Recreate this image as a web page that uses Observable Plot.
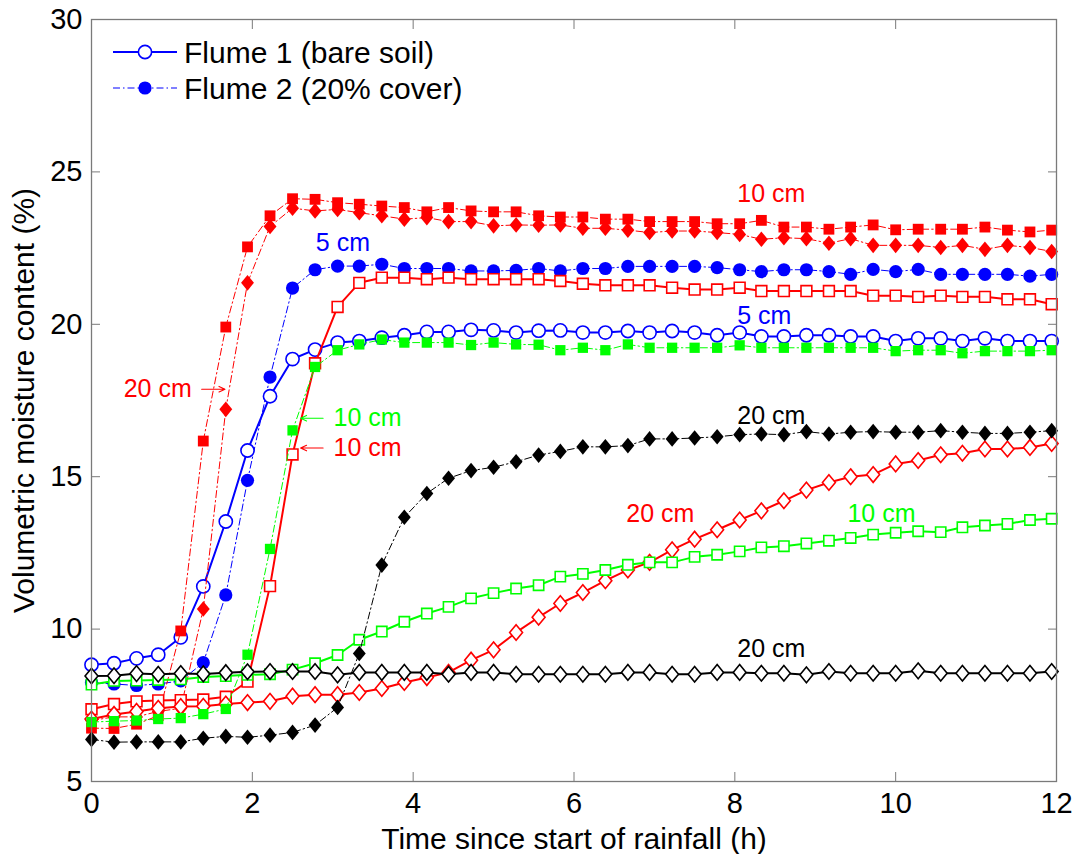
<!DOCTYPE html>
<html><head><meta charset="utf-8">
<script src="https://cdn.jsdelivr.net/npm/d3@7"></script>
<script src="https://cdn.jsdelivr.net/npm/@observablehq/plot@0.6"></script>
<style>
body{margin:0;background:#fff;}
#wrap{position:relative;width:1077px;height:854px;font-family:"Liberation Sans",Arial,sans-serif;}
</style></head><body><div id="wrap"></div>
<script>
// time since start of rainfall (h)
const time = [0,0.28,0.56,0.83,1.11,1.39,1.67,1.94,2.22,2.5,2.78,3.06,3.33,3.61,3.89,4.17,4.44,4.72,5,5.28,5.56,5.83,6.11,6.39,6.67,6.94,7.22,7.5,7.78,8.06,8.33,8.61,8.89,9.17,9.44,9.72,10,10.28,10.56,10.83,11.11,11.39,11.67,11.94];

// Flume 1 (bare soil)
const f1Blue5 = [8.83,8.88,9.04,9.16,9.73,11.40,13.53,15.86,17.64,18.86,19.17,
 19.40,19.45,19.56,19.64,19.75,19.75,19.82,19.80,19.73,19.79,19.80,
 19.73,19.73,19.78,19.73,19.78,19.73,19.64,19.73,19.60,19.60,19.64,
 19.64,19.60,19.60,19.45,19.54,19.54,19.45,19.54,19.45,19.45,19.45];
const f1Red10 = [7.37,7.54,7.63,7.66,7.67,7.69,7.78,8.28,11.41,15.73,18.72,
 20.57,21.36,21.53,21.53,21.48,21.53,21.48,21.48,21.48,21.48,21.42,
 21.33,21.28,21.28,21.28,21.20,21.14,21.14,21.20,21.09,21.09,21.09,
 21.09,21.09,20.94,20.94,20.90,20.94,20.90,20.90,20.82,20.82,20.66];
const f1Red20 = [7.05,7.2,7.3,7.4,7.46,7.47,7.54,7.59,7.63,7.80,7.85,
 7.85,7.92,8.05,8.25,8.41,8.58,8.98,9.32,9.89,10.39,10.84,
 11.20,11.59,11.94,12.19,12.60,12.95,13.26,13.58,13.88,14.21,14.56,
 14.81,15.00,15.07,15.42,15.53,15.72,15.77,15.91,15.91,15.96,16.09];
const f1Green10 = [8.18,8.3,8.31,8.33,8.35,8.43,8.46,8.5,8.52,8.67,8.88,
 9.15,9.65,9.92,10.24,10.51,10.73,11.01,11.18,11.33,11.44,11.72,
 11.81,11.94,12.11,12.19,12.19,12.37,12.44,12.55,12.68,12.72,12.81,
 12.90,12.99,13.10,13.16,13.21,13.18,13.34,13.40,13.45,13.58,13.62];
const f1Black20 = [8.46,8.47,8.54,8.52,8.54,8.53,8.57,8.60,8.61,8.61,8.61,
 8.50,8.58,8.58,8.58,8.58,8.52,8.58,8.58,8.52,8.52,8.52,
 8.52,8.52,8.58,8.58,8.52,8.52,8.58,8.58,8.55,8.55,8.50,
 8.61,8.55,8.55,8.55,8.63,8.55,8.55,8.55,8.55,8.55,8.61];

// Flume 2 (20% cover)
const f2Blue5 = [8.25,8.2,8.15,8.2,8.3,8.9,11.12,14.88,18.27,21.19,21.79,
 21.91,21.91,21.97,21.83,21.83,21.83,21.75,21.75,21.77,21.83,21.75,
 21.83,21.83,21.90,21.90,21.90,21.90,21.86,21.79,21.73,21.79,21.79,
 21.73,21.64,21.80,21.73,21.80,21.64,21.64,21.64,21.64,21.58,21.64];
const f2Red10 = [6.75,6.74,6.88,7.16,9.94,16.17,19.91,22.54,23.56,24.12,24.10,
 23.99,23.94,23.88,23.83,23.69,23.83,23.72,23.69,23.69,23.56,23.52,
 23.52,23.45,23.45,23.37,23.37,23.37,23.30,23.30,23.41,23.19,23.19,
 23.12,23.19,23.26,23.10,23.12,23.12,23.12,23.19,23.09,23.03,23.09];
const f2Red20 = [7.0,7.12,7.12,7.3,7.4,10.66,17.21,21.36,23.21,23.81,23.72,
 23.77,23.66,23.56,23.45,23.50,23.37,23.37,23.23,23.26,23.25,23.26,
 23.15,23.15,23.09,23.01,23.06,23.06,23.01,22.95,22.79,22.84,22.81,
 22.66,22.81,22.59,22.59,22.59,22.52,22.59,22.46,22.59,22.52,22.39];
const f2Green10 = [6.95,6.98,7.0,7.05,7.08,7.21,7.38,9.16,12.63,16.52,18.6,
 19.15,19.34,19.50,19.40,19.40,19.40,19.32,19.40,19.34,19.33,19.15,
 19.23,19.15,19.34,19.23,19.23,19.23,19.23,19.31,19.23,19.23,19.23,
 19.23,19.23,19.23,19.12,19.15,19.15,19.05,19.12,19.12,19.12,19.15];
const f2Black20 = [6.38,6.29,6.30,6.30,6.30,6.42,6.48,6.45,6.52,6.61,6.85,
 7.43,9.20,12.10,13.67,14.45,14.95,15.20,15.31,15.49,15.71,15.83,
 15.98,15.98,16.02,16.24,16.24,16.27,16.31,16.38,16.40,16.38,16.48,
 16.40,16.46,16.48,16.46,16.46,16.51,16.46,16.42,16.42,16.46,16.51];

const xTicks = [0,2,4,6,8,10,12];
const yTicks = [5,10,15,20,25,30];
const legendLabels = ["Flume 1 (bare soil)", "Flume 2 (20% cover)"];
const xLabel = "Time since start of rainfall (h)";
const yLabel = "Volumetric moisture content (%)";

// depth annotations (data coordinates)
const annoText  = ["10 cm","5 cm","5 cm","20 cm","10 cm","10 cm","20 cm","20 cm","10 cm","20 cm"];
const annoX     = [8.03, 2.79, 8.03, 0.40, 3.01, 3.01, 8.03, 6.65, 9.40, 8.03];
const annoY     = [24.26, 22.66, 20.27, 17.87, 16.92, 15.94, 16.99, 13.78, 13.78, 9.35];
const annoColor = ["#ff0000","#0000ff","#0000ff","#ff0000","#00ff00","#ff0000","#000000","#ff0000","#00ff00","#000000"];
// annotation arrows (data coordinates: from -> to)
const arrowX1 = [1.37, 2.88, 2.88];
const arrowX2 = [1.66, 2.60, 2.60];
const arrowY  = [17.87, 16.92, 15.94];
const arrowColor = ["#ff0000", "#00ff00", "#ff0000"];

// ---- styles ----
const BLUE="#0000ff", RED="#ff0000", GREEN="#00ff00", BLACK="#000000";
const diamond = {draw(ctx, size){const s=Math.sqrt(size);const h=0.63*s,w=0.52*s;ctx.moveTo(0,-h);ctx.lineTo(w,0);ctx.lineTo(0,h);ctx.lineTo(-w,0);ctx.closePath();}};
const series = [
  {v: f2Blue5,   c: BLUE,  sym: "circle", flume: 2, r: 6.6},
  {v: f1Blue5,   c: BLUE,  sym: "circle", flume: 1, r: 6.6},
  {v: f2Red10,   c: RED,   sym: "square", flume: 2, r: 6.1},
  {v: f2Red20,   c: RED,   sym: diamond,  flume: 2, r: 7.0},
  {v: f1Red10,   c: RED,   sym: "square", flume: 1, r: 6.1},
  {v: f1Red20,   c: RED,   sym: diamond,  flume: 1, r: 7.0},
  {v: f1Green10, c: GREEN, sym: "square", flume: 1, r: 5.8},
  {v: f2Green10, c: GREEN, sym: "square", flume: 2, r: 5.8},
  {v: f2Black20, c: BLACK, sym: diamond,  flume: 2, r: 7.0},
  {v: f1Black20, c: BLACK, sym: diamond,  flume: 1, r: 7.0}
];
const DASHDOT = "7,3,1.5,3";

const marks = [];
for (const s of series) {
  const rows = s.v.map((y, i) => ({t: time[i], y}));
  marks.push(Plot.line(rows, {x: "t", y: "y", stroke: s.c,
    strokeWidth: s.flume === 1 ? 2 : 1,
    strokeDasharray: s.flume === 1 ? null : DASHDOT}));
  marks.push(Plot.dot(rows, {x: "t", y: "y", symbol: s.sym, r: s.r,
    fill: s.flume === 1 ? "white" : s.c,
    stroke: s.flume === 1 ? s.c : "none",
    strokeWidth: 1.6}));
}

const annos = annoText.map((t, i) => ({t, x: annoX[i], y: annoY[i], c: annoColor[i]}));
const arrows = arrowX1.map((x1, i) => ({x1, x2: arrowX2[i], y: arrowY[i], c: arrowColor[i]}));
const gray = "#7a7a7a";
const FONT = "'Liberation Sans', Arial, sans-serif";

const plot = Plot.plot({
  width: 1077, height: 854,
  marginLeft: 91, marginRight: 21, marginTop: 19, marginBottom: 73,
  style: {fontFamily: FONT, background: "white", color: "black"},
  x: {domain: [0, 12], ticks: xTicks, label: null},
  y: {domain: [5, 30], ticks: yTicks, label: null},
  marks: [
    ...marks,
    Plot.text(annos, {x: "x", y: "y", text: "t", fill: "c", textAnchor: "start", fontSize: 25}),
    Plot.arrow(arrows, {x1: "x1", x2: "x2", y1: "y", y2: "y", stroke: "c", strokeWidth: 1.1, headLength: 9, headAngle: 50}),
    Plot.frame({stroke: gray, strokeWidth: 1.3}),
    Plot.axisX(xTicks, {anchor: "bottom", tickSize: -9, stroke: gray, tickFormat: () => "", label: null}),
    Plot.axisX(xTicks, {anchor: "top", tickSize: -9, stroke: gray, tickFormat: () => "", label: null}),
    Plot.axisY(yTicks, {anchor: "left", tickSize: -9, stroke: gray, tickFormat: () => "", label: null}),
    Plot.axisY(yTicks, {anchor: "right", tickSize: -9, stroke: gray, tickFormat: () => "", label: null}),
    Plot.axisX(xTicks, {anchor: "bottom", tickSize: 0, tickPadding: 11, fontSize: 29, label: null}),
    Plot.axisY(yTicks, {anchor: "left", tickSize: 0, tickPadding: 9, fontSize: 29, label: null}),
    Plot.text([xLabel], {frameAnchor: "bottom", dy: 58, fontSize: 30, textAnchor: "middle", lineAnchor: "middle"}),
    Plot.text([yLabel], {frameAnchor: "left", dx: -67, rotate: -90, fontSize: 30, textAnchor: "middle", lineAnchor: "middle"})
  ]
});
const wrap = document.getElementById("wrap");
wrap.appendChild(plot);

// legend overlay (top-left inside the axes)
const leg = d3.select(wrap).append("svg")
  .attr("width", 520).attr("height", 120)
  .style("position", "absolute").style("left", "0px").style("top", "0px");
const rowsY = [52, 88];
legendLabels.forEach((lab, i) => {
  const y = rowsY[i];
  leg.append("line").attr("x1", 113).attr("x2", 177).attr("y1", y).attr("y2", y)
    .attr("stroke", BLUE).attr("stroke-width", i === 0 ? 2 : 1)
    .attr("stroke-dasharray", i === 0 ? null : DASHDOT);
  leg.append("circle").attr("cx", 145).attr("cy", y).attr("r", 6.6)
    .attr("fill", i === 0 ? "white" : BLUE).attr("stroke", i === 0 ? BLUE : "none").attr("stroke-width", 1.6);
  leg.append("text").attr("x", 184).attr("y", y).attr("dy", "0.36em")
    .attr("font-family", FONT).attr("font-size", 30).attr("fill", "black").text(lab);
});
</script></body></html>
